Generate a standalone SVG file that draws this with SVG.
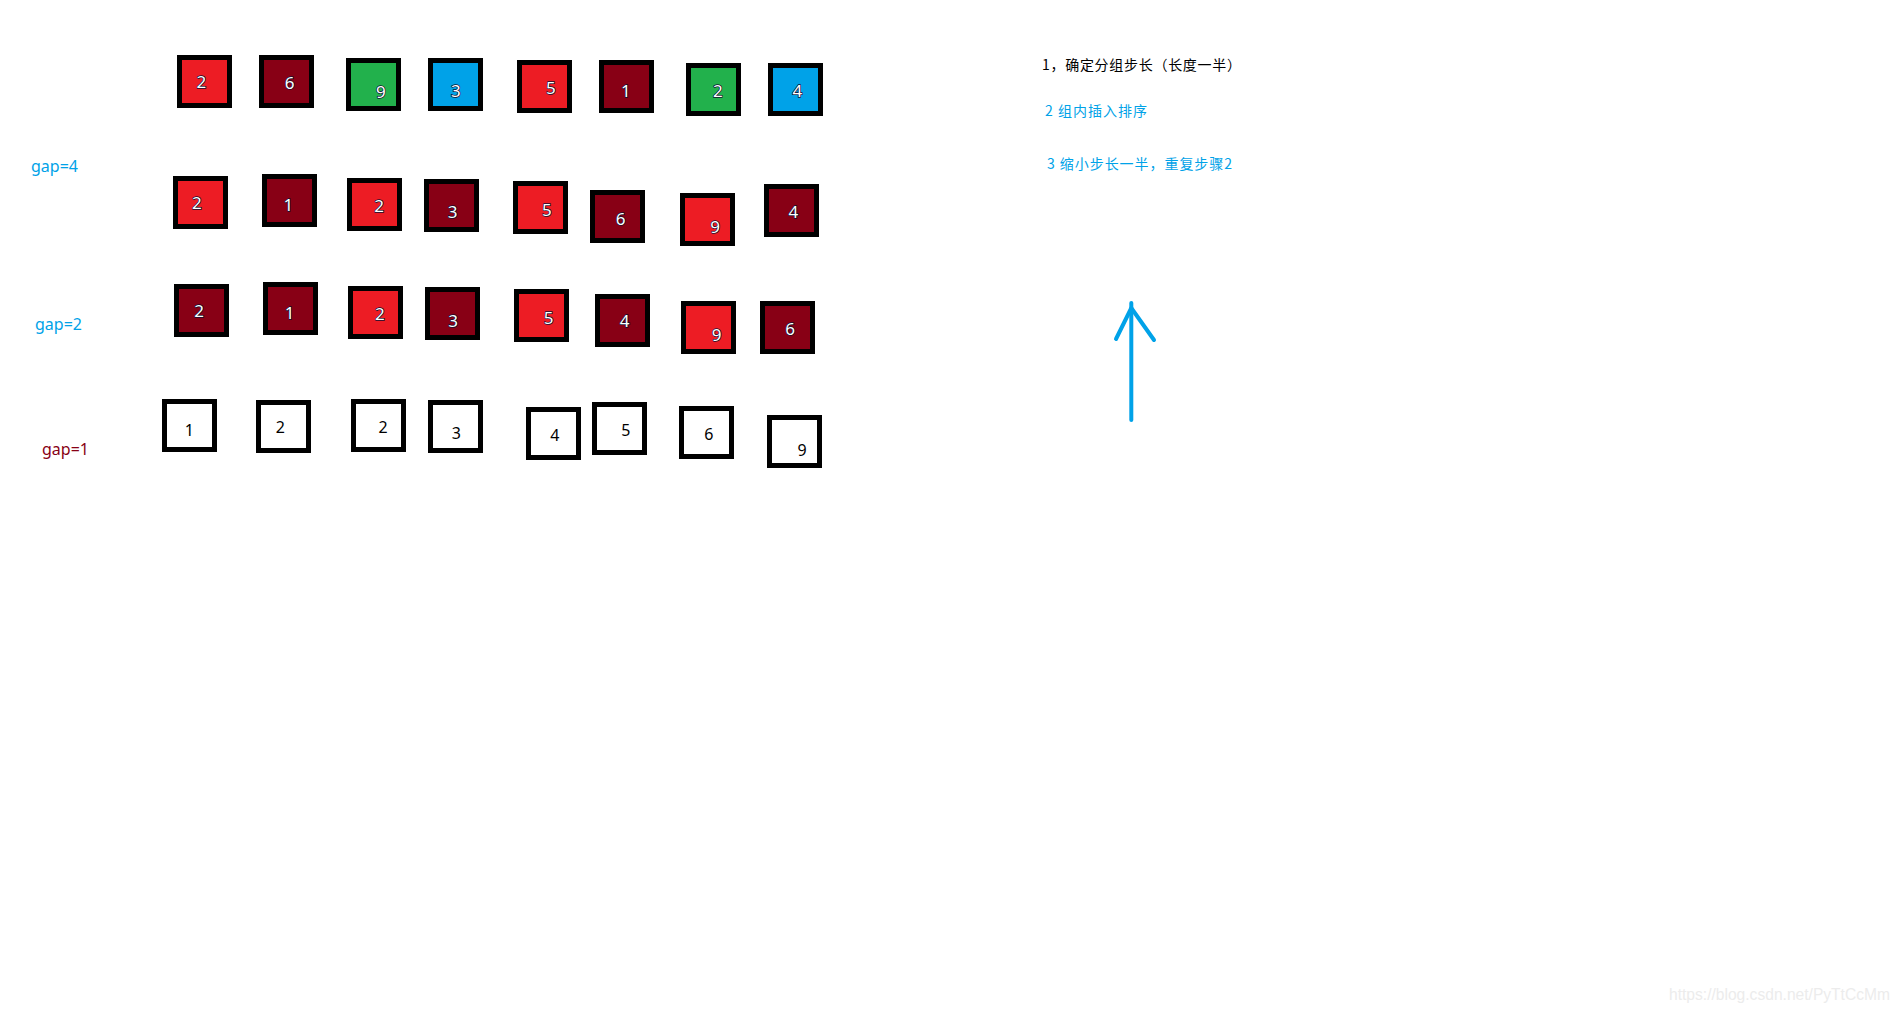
<svg xmlns="http://www.w3.org/2000/svg" width="1901" height="1013" viewBox="0 0 1901 1013">
<style>
.b{stroke:#000;stroke-width:5}
.r{fill:#ed1c24}.d{fill:#880015}.g{fill:#22b14c}.u{fill:#00a2e8}.w{fill:#fff}
.n{font-family:"Noto Sans","Open Sans",sans-serif;font-size:17px;text-anchor:middle;fill:#fff;stroke:#101030;stroke-width:1.4;paint-order:stroke}
.m{font-family:"Noto Sans","Open Sans",sans-serif;font-size:16px;text-anchor:middle;fill:#000}
.lbl{font-family:"Noto Sans","Noto Sans CJK SC",sans-serif;font-size:16px}
.cn{font-family:"Noto Sans CJK SC",sans-serif;font-size:14px}
</style>
<rect width="1901" height="1013" fill="#fff"/>
<g id="row1">
<g id="r1n1"><rect class="b r" x="179.5" y="57.5" width="50" height="48"/><text class="n" x="201.3" y="87.8">2</text></g>
<g id="r1n2"><rect class="b d" x="261.5" y="57.5" width="50" height="48"/><text class="n" x="289.7" y="89.4">6</text></g>
<g id="r1n3"><rect class="b g" x="348.5" y="60.5" width="50" height="48"/><text class="n" x="380.8" y="98.4">9</text></g>
<g id="r1n4"><rect class="b u" x="430.5" y="60.5" width="50" height="48"/><text class="n" x="455.8" y="97.1">3</text></g>
<g id="r1n5"><rect class="b r" x="519.5" y="62.5" width="50" height="48"/><text class="n" x="550.9" y="94.4">5</text></g>
<g id="r1n6"><rect class="b d" x="601.5" y="62.5" width="50" height="48"/><text class="n" x="625.9" y="96.8">1</text></g>
<g id="r1n7"><rect class="b g" x="688.5" y="65.5" width="50" height="48"/><text class="n" x="717.9" y="96.8">2</text></g>
<g id="r1n8"><rect class="b u" x="770.5" y="65.5" width="50" height="48"/><text class="n" x="797.3" y="96.8">4</text></g>
</g>
<g id="row2">
<g id="r2n1"><rect class="b r" x="175.5" y="178.5" width="50" height="48"/><text class="n" x="196.9" y="208.8">2</text></g>
<g id="r2n2"><rect class="b d" x="264.5" y="176.5" width="50" height="48"/><text class="n" x="288.4" y="211.1">1</text></g>
<g id="r2n3"><rect class="b r" x="349.5" y="180.5" width="50" height="48"/><text class="n" x="379" y="211.8">2</text></g>
<g id="r2n4"><rect class="b d" x="426.5" y="181.5" width="50" height="48"/><text class="n" x="452.7" y="218.4">3</text></g>
<g id="r2n5"><rect class="b r" x="515.5" y="183.5" width="50" height="48"/><text class="n" x="546.9" y="216.1">5</text></g>
<g id="r2n6"><rect class="b d" x="592.5" y="192.5" width="50" height="48"/><text class="n" x="620.5" y="225.1">6</text></g>
<g id="r2n7"><rect class="b r" x="682.5" y="195.5" width="50" height="48"/><text class="n" x="715.2" y="232.8">9</text></g>
<g id="r2n8"><rect class="b d" x="766.5" y="186.5" width="50" height="48"/><text class="n" x="793.3" y="217.8">4</text></g>
</g>
<g id="row3">
<g id="r3n1"><rect class="b d" x="176.5" y="286.5" width="50" height="48"/><text class="n" x="199.1" y="317.1">2</text></g>
<g id="r3n2"><rect class="b d" x="265.5" y="284.5" width="50" height="48"/><text class="n" x="289.7" y="319.4">1</text></g>
<g id="r3n3"><rect class="b r" x="350.5" y="288.5" width="50" height="48"/><text class="n" x="379.9" y="320.4">2</text></g>
<g id="r3n4"><rect class="b d" x="427.5" y="289.5" width="50" height="48"/><text class="n" x="453.1" y="326.8">3</text></g>
<g id="r3n5"><rect class="b r" x="516.5" y="291.5" width="50" height="48"/><text class="n" x="548.7" y="323.8">5</text></g>
<g id="r3n6"><rect class="b d" x="597.5" y="296.5" width="50" height="48"/><text class="n" x="624.6" y="327.1">4</text></g>
<g id="r3n7"><rect class="b r" x="683.5" y="303.5" width="50" height="48"/><text class="n" x="716.5" y="341.1">9</text></g>
<g id="r3n8"><rect class="b d" x="762.5" y="303.5" width="50" height="48"/><text class="n" x="790.2" y="335.4">6</text></g>
</g>
<g id="row4">
<g id="r4n1"><rect class="b w" x="164.5" y="401.5" width="50" height="48"/><text class="m" x="189.3" y="436.4">1</text></g>
<g id="r4n2"><rect class="b w" x="258.5" y="402.5" width="50" height="48"/><text class="m" x="280.4" y="433">2</text></g>
<g id="r4n3"><rect class="b w" x="353.5" y="401.5" width="50" height="48"/><text class="m" x="383" y="433">2</text></g>
<g id="r4n4"><rect class="b w" x="430.5" y="402.5" width="50" height="48"/><text class="m" x="456.3" y="439">3</text></g>
<g id="r4n5"><rect class="b w" x="528.5" y="409.5" width="50" height="48"/><text class="m" x="554.9" y="441.4">4</text></g>
<g id="r4n6"><rect class="b w" x="594.5" y="404.5" width="50" height="48"/><text class="m" x="625.9" y="436.4">5</text></g>
<g id="r4n7"><rect class="b w" x="681.5" y="408.5" width="50" height="48"/><text class="m" x="708.9" y="440">6</text></g>
<g id="r4n8"><rect class="b w" x="769.5" y="417.5" width="50" height="48"/><text class="m" x="802.2" y="455.7">9</text></g>
</g>
<g id="labels">
<text class="lbl" x="31" y="171.5" fill="#00a2e8">gap=4</text>
<text class="lbl" x="35" y="329.5" fill="#00a2e8">gap=2</text>
<text class="lbl" x="42" y="454.5" fill="#880015">gap=1</text>
</g>
<g id="notes">
<text class="cn" x="1042" y="70" fill="#000" textLength="199">1，确定分组步长（长度一半）</text>
<text class="cn" x="1045" y="116" fill="#00a2e8" textLength="102">2 组内插入排序</text>
<text class="cn" x="1047" y="169" fill="#00a2e8" textLength="185">3 缩小步长一半，重复步骤2</text>
</g>
<g id="connectors" fill="none" stroke="#00a2e8" stroke-width="4" stroke-linecap="round" stroke-linejoin="round">
<path d="M1131.3 420 L1131.3 303"/>
<path d="M1116 339 L1131.3 308 L1154 340"/>
</g>
<text x="1669" y="1000" font-family="Liberation Sans,Arial,sans-serif" font-size="15.6" fill="#ececec">https://blog.csdn.net/PyTtCcMm</text>
</svg>
